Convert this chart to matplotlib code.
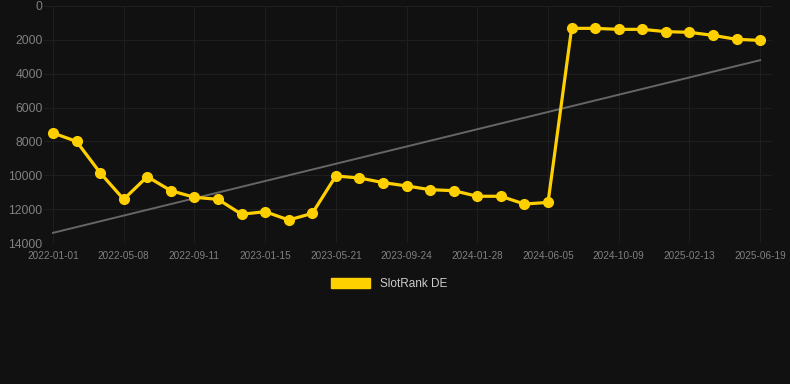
import matplotlib
matplotlib.use("Agg")
import matplotlib.pyplot as plt
from matplotlib.patches import Patch
import numpy as np

plt.rcParams["font.family"] = ["Liberation Sans", "DejaVu Sans"]

tick_labels = ["2022-01-01", "2022-05-08", "2022-09-11", "2023-01-15", "2023-05-21",
               "2023-09-24", "2024-01-28", "2024-06-05", "2024-10-09", "2025-02-13",
               "2025-06-19"]
rank = [7500, 8000, 9850, 11420, 10080, 10910, 11300, 11420, 12300, 12150,
        12640, 12250, 10040, 10160, 10430, 10630, 10850, 10910, 11240, 11240,
        11700, 11600, 1320, 1320, 1380, 1380, 1515, 1555, 1735, 1970, 2030]
trend = [13400, 3200]

bg = "#111111"
x = np.arange(len(rank))

fig = plt.figure(figsize=(7.9, 3.84), dpi=100, facecolor=bg)
ax = fig.add_axes([44 / 790, 1 - 243 / 384, (772 - 44) / 790, (243 - 6) / 384])
ax.set_facecolor(bg)

ax.plot([x[0], x[-1]], trend, color="#666666", linewidth=1.4, zorder=2)
ax.plot(x, rank, color="#FFD000", linewidth=2.3, marker="o", markersize=7, zorder=3)

ax.set_ylim(14000, 0)
ax.set_xlim(-0.38, 30.5)
ax.set_yticks(np.arange(0, 14001, 2000))
ax.set_xticks(x[::3])
ax.set_xticklabels(tick_labels)
ax.grid(True, color="#1e1e1e", linewidth=0.8)
for s in ax.spines.values():
    s.set_visible(False)
ax.tick_params(axis="y", colors="#808080", labelsize=8.7, length=0, pad=1)
ax.tick_params(axis="x", colors="#808080", labelsize=7.2, length=0, pad=6)

handle = Patch(facecolor="#FFD000", edgecolor="#FFD000")
fig.legend([handle], ["SlotRank DE"], loc="center", bbox_to_anchor=(389 / 790, 1 - 284 / 384),
           frameon=False, labelcolor="#cccccc", fontsize=8.5, handlelength=3.3, handleheight=1.0)

fig.savefig("out.png", dpi=100, facecolor=bg)
